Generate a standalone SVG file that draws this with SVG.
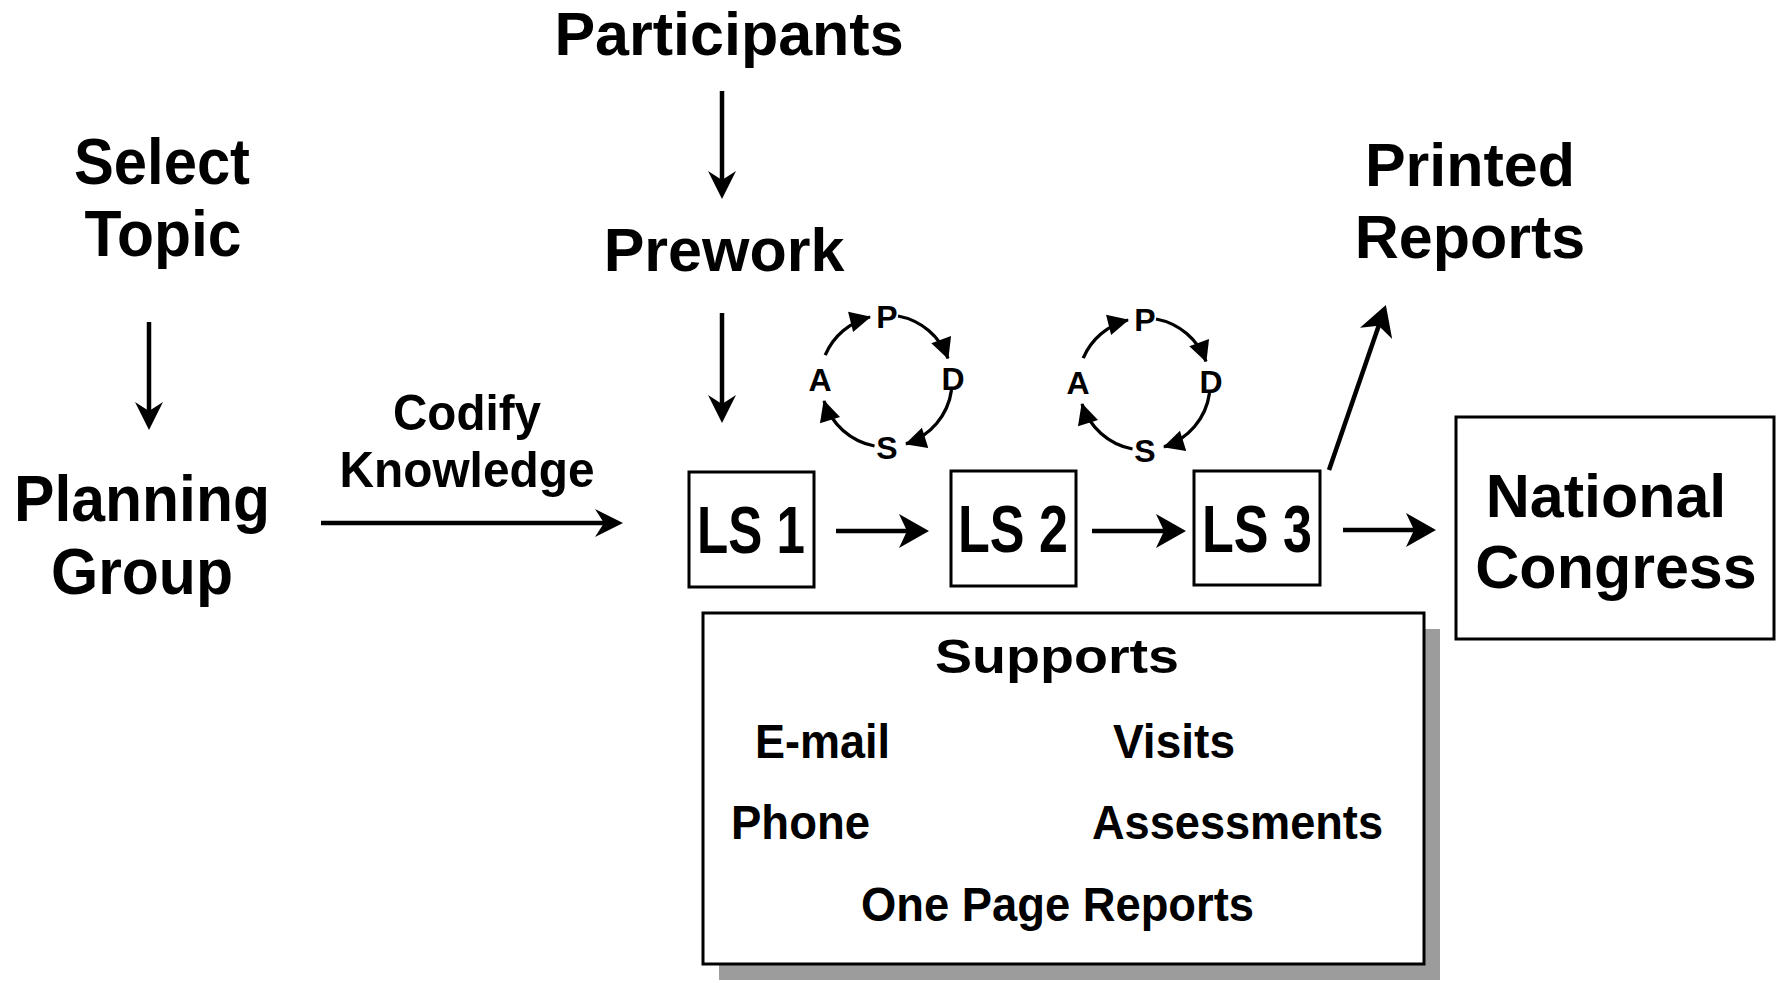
<svg xmlns="http://www.w3.org/2000/svg" width="1783" height="983" viewBox="0 0 1783 983">
  <defs>
    <style>
      text { font-family: "Liberation Sans", Arial, sans-serif; font-weight: bold; fill: #000; }
      .big { font-size: 61px; }
      .cond { font-size: 64px; }
      .mid { font-size: 50px; }
      .sup { font-size: 48px; }
      .ls { font-size: 66px; }
      .pdsa { font-size: 32px; text-anchor: middle; }
      .box { fill: #fff; stroke: #000; stroke-width: 3; }
      .thin { stroke: #000; stroke-width: 4.5; fill: none; }
      .thick { stroke: #000; stroke-width: 4.5; fill: none; }
      .arc { stroke: #000; stroke-width: 3.3; fill: none; }
    </style>
    <!-- filled arrowhead with notched back -->
    <marker id="stealth" markerUnits="userSpaceOnUse" viewBox="-14 -20 34 40" refX="0" refY="0" markerWidth="34" markerHeight="40" orient="auto">
      <path d="M18,0 L-12,-17 L-4,0 L-12,17 Z" fill="#000"/>
    </marker>
    <!-- narrower notched arrowhead for the lighter arrows -->
    <marker id="stealth-sm" markerUnits="userSpaceOnUse" viewBox="-16 -16 32 32" refX="0" refY="0" markerWidth="32" markerHeight="32" orient="auto">
      <path d="M14,0 L-14,-14 L-5,0 L-14,14 Z" fill="#000"/>
    </marker>
    <!-- small triangle for the PDSA cycle -->
    <marker id="tri" markerUnits="userSpaceOnUse" viewBox="-22 -12 24 24" refX="0" refY="0" markerWidth="24" markerHeight="24" orient="auto">
      <path d="M1,0 L-20,-10.5 L-20,10.5 Z" fill="#000"/>
    </marker>
  </defs>

  <rect width="1783" height="983" fill="#fff"/>

  <!-- connectors -->
  <g id="connectors">
    <line class="thin" x1="722" y1="91" x2="722" y2="185" marker-end="url(#stealth-sm)"/>
    <line class="thin" x1="722" y1="313" x2="722" y2="409" marker-end="url(#stealth-sm)"/>
    <line class="thin" x1="149" y1="322" x2="149" y2="416" marker-end="url(#stealth-sm)"/>
    <line class="thin" x1="321" y1="523" x2="609" y2="523" stroke-width="4" marker-end="url(#stealth-sm)"/>
    <line class="thick" x1="836" y1="531" x2="911" y2="531" marker-end="url(#stealth)"/>
    <line class="thick" x1="1092" y1="531" x2="1168" y2="531" marker-end="url(#stealth)"/>
    <line class="thick" x1="1343" y1="530" x2="1418" y2="530" marker-end="url(#stealth)"/>
    <line class="thick" x1="1329" y1="470" x2="1380" y2="322" marker-end="url(#stealth)"/>
  </g>

  <g id="participants">
    <text class="big" x="729" y="55" text-anchor="middle" font-size="60">Participants</text>
  </g>
  <g id="prework">
    <text class="big" x="724" y="271" text-anchor="middle" font-size="60">Prework</text>
  </g>
  <g id="select-topic">
    <text class="cond" x="162" y="184" text-anchor="middle" textLength="176" lengthAdjust="spacingAndGlyphs">Select</text>
    <text class="cond" x="163" y="256" text-anchor="middle" textLength="157" lengthAdjust="spacingAndGlyphs">Topic</text>
  </g>
  <g id="planning-group">
    <text class="cond" x="142" y="521" text-anchor="middle" textLength="256" lengthAdjust="spacingAndGlyphs">Planning</text>
    <text class="cond" x="142" y="594" text-anchor="middle" textLength="182" lengthAdjust="spacingAndGlyphs">Group</text>
  </g>
  <g id="codify-knowledge">
    <text class="mid" x="467" y="430" text-anchor="middle" textLength="148" lengthAdjust="spacingAndGlyphs">Codify</text>
    <text class="mid" x="467" y="487" text-anchor="middle" textLength="255" lengthAdjust="spacingAndGlyphs">Knowledge</text>
  </g>

  <g id="ls1">
    <rect class="box" x="689" y="472" width="125" height="115"/>
    <text class="ls" x="751" y="553" text-anchor="middle" textLength="108" lengthAdjust="spacingAndGlyphs">LS 1</text>
  </g>
  <g id="ls2">
    <rect class="box" x="951" y="471" width="125" height="115"/>
    <text class="ls" x="1013" y="552" text-anchor="middle" textLength="110" lengthAdjust="spacingAndGlyphs">LS 2</text>
  </g>
  <g id="ls3">
    <rect class="box" x="1194" y="471" width="126" height="114"/>
    <text class="ls" x="1257" y="552" text-anchor="middle" textLength="110" lengthAdjust="spacingAndGlyphs">LS 3</text>
  </g>

  <g id="pdsa-1" transform="translate(886,381)">
    <path class="arc" d="M-60.8,-25.8 A66,66 0 0 1 -16,-64" marker-end="url(#tri)"/>
    <path class="arc" d="M12,-65 A66,66 0 0 1 62.0,-22.6" marker-end="url(#tri)"/>
    <path class="arc" d="M65.5,9 A66,66 0 0 1 20,62.9" marker-end="url(#tri)"/>
    <path class="arc" d="M-11.5,65.0 A66,66 0 0 1 -62.0,20" marker-end="url(#tri)"/>
    <text class="pdsa" x="1" y="-53">P</text>
    <text class="pdsa" x="67" y="9">D</text>
    <text class="pdsa" x="1" y="78">S</text>
    <text class="pdsa" x="-66" y="10">A</text>
  </g>
  <g id="pdsa-2" transform="translate(1144,384)">
    <path class="arc" d="M-60.8,-25.8 A66,66 0 0 1 -16,-64" marker-end="url(#tri)"/>
    <path class="arc" d="M12,-65 A66,66 0 0 1 62.0,-22.6" marker-end="url(#tri)"/>
    <path class="arc" d="M65.5,9 A66,66 0 0 1 20,62.9" marker-end="url(#tri)"/>
    <path class="arc" d="M-11.5,65.0 A66,66 0 0 1 -62.0,20" marker-end="url(#tri)"/>
    <text class="pdsa" x="1" y="-53">P</text>
    <text class="pdsa" x="67" y="9">D</text>
    <text class="pdsa" x="1" y="78">S</text>
    <text class="pdsa" x="-66" y="10">A</text>
  </g>

  <g id="printed-reports">
    <text class="big" x="1470" y="186" text-anchor="middle" font-size="60">Printed</text>
    <text class="big" x="1470" y="258" text-anchor="middle" font-size="60">Reports</text>
  </g>

  <g id="national-congress">
    <rect class="box" x="1456" y="417" width="318" height="222"/>
    <text class="big" x="1606" y="517" text-anchor="middle">National</text>
    <text class="big" x="1616" y="588" text-anchor="middle">Congress</text>
  </g>

  <g id="supports">
    <rect x="719" y="629" width="721" height="351" fill="#9c9c9c"/>
    <rect class="box" x="703" y="613" width="721" height="351"/>
    <text class="sup" x="1057" y="673" text-anchor="middle" font-size="58" textLength="244" lengthAdjust="spacingAndGlyphs">Supports</text>
    <text class="sup" x="755" y="758" textLength="135" lengthAdjust="spacingAndGlyphs">E-mail</text>
    <text class="sup" x="1113" y="758" textLength="122" lengthAdjust="spacingAndGlyphs">Visits</text>
    <text class="sup" x="731" y="839" textLength="139" lengthAdjust="spacingAndGlyphs">Phone</text>
    <text class="sup" x="1092" y="839" textLength="291" lengthAdjust="spacingAndGlyphs">Assessments</text>
    <text class="sup" x="861" y="921" textLength="393" lengthAdjust="spacingAndGlyphs">One Page Reports</text>
  </g>
</svg>
